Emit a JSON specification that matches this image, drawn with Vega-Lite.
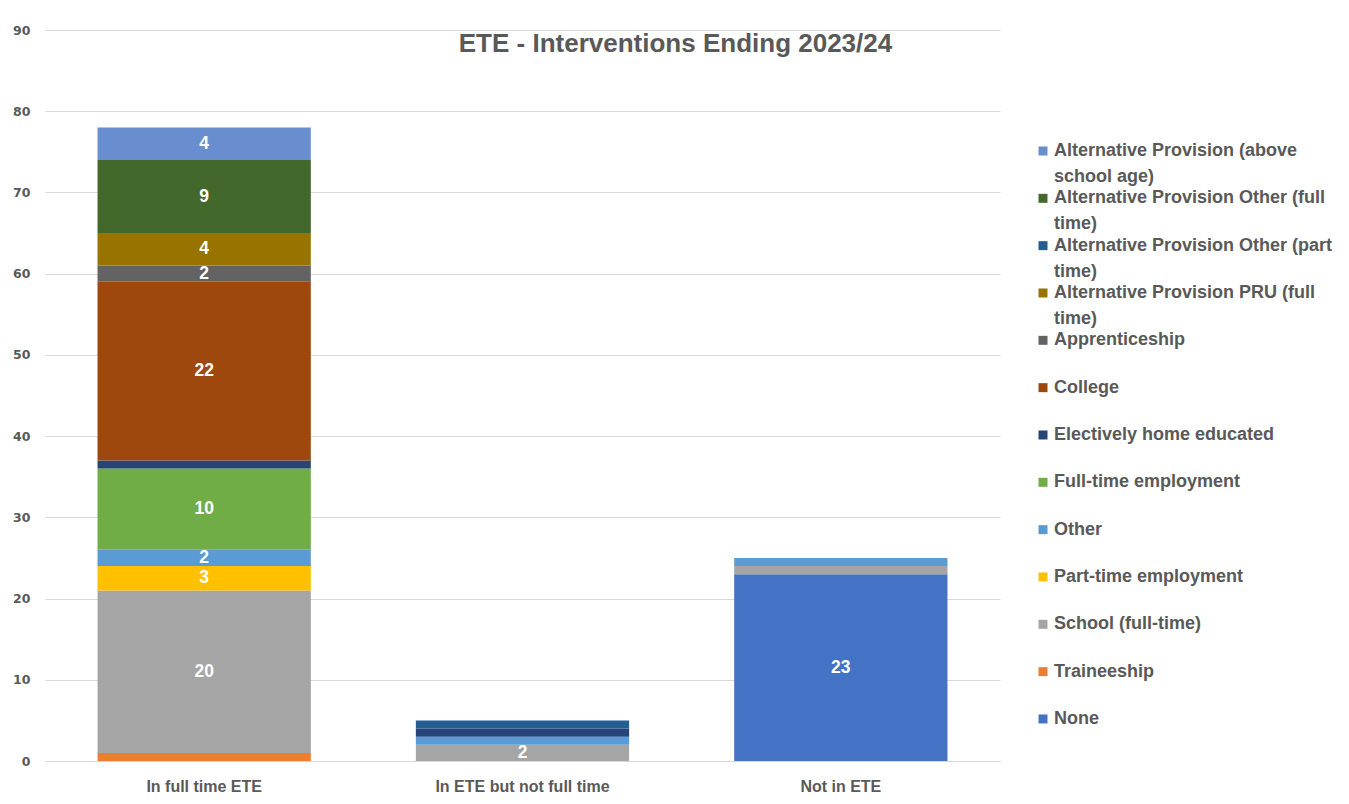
{
  "$schema": "https://vega.github.io/schema/vega-lite/v6.json",
  "width": 955,
  "height": 731,
  "autosize": {"type": "none"},
  "padding": {"left": 45, "top": 30, "right": 349, "bottom": 43},
  "background": "white",
  "title": {
    "text": "ETE - Interventions Ending 2023/24",
    "anchor": "middle",
    "frame": "group",
    "dx": 153,
    "offset": -33,
    "font": "Liberation Sans",
    "fontSize": 26,
    "fontWeight": "bold",
    "color": "#595959"
  },
  "config": {
    "view": {"stroke": null},
    "style": {"guide-label": {"lineHeight": 26}}
  },
  "data": {
    "values": [
      {"outcome": "In full time ETE", "category": "Traineeship", "series": 2, "count": 1},
      {"outcome": "In full time ETE", "category": "School (full-time)", "series": 3, "count": 20},
      {"outcome": "In full time ETE", "category": "Part-time employment", "series": 4, "count": 3},
      {"outcome": "In full time ETE", "category": "Other", "series": 5, "count": 2},
      {"outcome": "In full time ETE", "category": "Full-time employment", "series": 6, "count": 10},
      {"outcome": "In full time ETE", "category": "Electively home educated", "series": 7, "count": 1},
      {"outcome": "In full time ETE", "category": "College", "series": 8, "count": 22},
      {"outcome": "In full time ETE", "category": "Apprenticeship", "series": 9, "count": 2},
      {"outcome": "In full time ETE", "category": "Alternative Provision PRU (full time)", "series": 10, "count": 4},
      {"outcome": "In full time ETE", "category": "Alternative Provision Other (full time)", "series": 12, "count": 9},
      {"outcome": "In full time ETE", "category": "Alternative Provision (above school age)", "series": 13, "count": 4},
      {"outcome": "In ETE but not full time", "category": "School (full-time)", "series": 3, "count": 2},
      {"outcome": "In ETE but not full time", "category": "Other", "series": 5, "count": 1},
      {"outcome": "In ETE but not full time", "category": "Electively home educated", "series": 7, "count": 1},
      {"outcome": "In ETE but not full time", "category": "Alternative Provision Other (part time)", "series": 11, "count": 1},
      {"outcome": "Not in ETE", "category": "None", "series": 1, "count": 23},
      {"outcome": "Not in ETE", "category": "School (full-time)", "series": 3, "count": 1},
      {"outcome": "Not in ETE", "category": "Other", "series": 5, "count": 1}
    ]
  },
  "encoding": {
    "x": {
      "field": "outcome",
      "type": "nominal",
      "sort": ["In full time ETE", "In ETE but not full time", "Not in ETE"],
      "scale": {"paddingInner": 0.33, "paddingOuter": 0.165},
      "axis": {
        "title": null,
        "labelAngle": 0,
        "ticks": false,
        "domainColor": "#d9d9d9",
        "labelFont": "Liberation Sans",
        "labelFontWeight": "bold",
        "labelFontSize": 16,
        "labelColor": "#595959",
        "labelPadding": 17
      }
    },
    "order": {"field": "series", "type": "quantitative", "sort": "ascending"}
  },
  "layer": [
    {
      "mark": {"type": "bar"},
      "encoding": {
        "y": {
          "field": "count",
          "type": "quantitative",
          "stack": "zero",
          "scale": {"domain": [0, 90], "nice": false},
          "axis": {
            "title": null,
            "values": [0, 10, 20, 30, 40, 50, 60, 70, 80, 90],
            "domain": false,
            "ticks": false,
            "gridColor": "#d9d9d9",
            "labelFont": "DejaVu Sans",
            "labelFontWeight": "bold",
            "labelFontSize": 12.5,
            "labelColor": "#595959",
            "labelPadding": 15
          }
        },
        "color": {
          "field": "category",
          "type": "nominal",
          "sort": ["Alternative Provision (above school age)", "Alternative Provision Other (full time)", "Alternative Provision Other (part time)", "Alternative Provision PRU (full time)", "Apprenticeship", "College", "Electively home educated", "Full-time employment", "Other", "Part-time employment", "School (full-time)", "Traineeship", "None"],
          "scale": {
            "domain": ["Alternative Provision (above school age)", "Alternative Provision Other (full time)", "Alternative Provision Other (part time)", "Alternative Provision PRU (full time)", "Apprenticeship", "College", "Electively home educated", "Full-time employment", "Other", "Part-time employment", "School (full-time)", "Traineeship", "None"],
            "range": ["#698ED0", "#43682B", "#255E91", "#997300", "#636363", "#9E480E", "#264478", "#70AD47", "#5B9BD5", "#FFC000", "#A5A5A5", "#ED7D31", "#4472C4"]
          },
          "legend": {
            "title": null,
            "orient": "none",
            "legendX": 989,
            "legendY": 112,
            "padding": 0,
            "symbolType": "square",
            "symbolSize": 81,
            "symbolStrokeWidth": 0,
            "labelFont": "Liberation Sans",
            "labelFontWeight": "bold",
            "labelFontSize": 18,
            "labelColor": "#595959",
            "labelLimit": 400,
            "labelOffset": 2,
            "labelBaseline": "top",
            "gridAlign": "all",
            "rowPadding": 3.33,
            "labelExpr": "datum.label == 'Alternative Provision (above school age)' ? ['Alternative Provision (above', 'school age)'] : datum.label == 'Alternative Provision Other (full time)' ? ['Alternative Provision Other (full', 'time)'] : datum.label == 'Alternative Provision Other (part time)' ? ['Alternative Provision Other (part', 'time)'] : datum.label == 'Alternative Provision PRU (full time)' ? ['Alternative Provision PRU (full', 'time)'] : datum.label",
            "encode": {"labels": {"update": {"dy": {"value": -9}}}}
          }
        }
      }
    },
    {
      "mark": {"type": "text", "font": "Liberation Sans", "fontWeight": "bold", "fontSize": 17.5, "baseline": "middle", "fill": "#ffffff"},
      "encoding": {
        "y": {"field": "count", "type": "quantitative", "stack": "zero", "bandPosition": 0.5},
        "detail": {"field": "category", "type": "nominal"},
        "text": {"condition": {"test": "datum.count >= 2", "field": "count", "type": "quantitative"}, "value": ""}
      }
    }
  ]
}
